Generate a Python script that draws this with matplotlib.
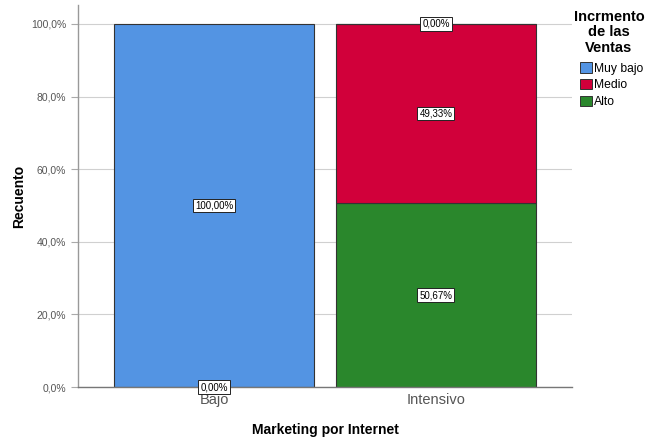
import matplotlib.pyplot as plt
import numpy as np
from matplotlib.patches import Patch
from matplotlib.ticker import FuncFormatter

plt.rcParams['font.family'] = ['Liberation Sans', 'DejaVu Sans']

categorias = ['Bajo', 'Intensivo']
niveles = ['Muy bajo', 'Medio', 'Alto']
colores = {'Muy bajo': '#5394e3', 'Medio': '#d1003a', 'Alto': '#2a872c'}
# porcentajes por categoria; nan = el nivel no aparece en ese grupo
muy_bajo = [100.0, 0.0]
medio = [0.0, 49.33]
alto = [np.nan, 50.67]
valores = {'Muy bajo': muy_bajo, 'Medio': medio, 'Alto': alto}
orden_apilado = ['Alto', 'Medio', 'Muy bajo']

fig = plt.figure(figsize=(6.46, 4.38), dpi=100)
ax = fig.add_axes([0.1207, 0.1164, 0.7647, 0.8722])

x = np.arange(len(categorias))
base = np.zeros(len(categorias))
for nivel in orden_apilado:
    v = np.array(valores[nivel])
    for i in range(len(categorias)):
        if np.isnan(v[i]):
            continue
        ax.bar(x[i], v[i], bottom=base[i], width=0.9, color=colores[nivel],
               edgecolor='#333333', linewidth=0.8, zorder=2)
        etiqueta = f'{v[i]:.2f}%'.replace('.', ',')
        ax.text(x[i], base[i] + v[i] / 2, etiqueta, ha='center', va='center',
                fontsize=7, zorder=4,
                bbox=dict(boxstyle='square,pad=0.2', fc='white', ec='#222222', lw=0.7))
        base[i] += v[i]

ax.set_xlim(-0.613, 1.613)
ax.set_ylim(0, 105.2)
ax.set_yticks(np.arange(0, 101, 20))
ax.yaxis.set_major_formatter(FuncFormatter(lambda y, _: f'{y:.1f}%'.replace('.', ',')))
ax.set_xticks(x)
ax.set_xticklabels(categorias, fontsize=10.5, color='#555555')
ax.tick_params(axis='y', labelsize=7.5, colors='#555555', length=5, color='#aaaaaa')
ax.tick_params(axis='x', length=0, pad=4)
ax.grid(axis='y', color='#d0d0d0', linewidth=0.8, zorder=0)

for s in ['top', 'right']:
    ax.spines[s].set_visible(False)
ax.spines['left'].set_color('#999999')
ax.spines['bottom'].set_color('#777777')
ax.spines['left'].set_linewidth(1.0)
ax.spines['bottom'].set_linewidth(1.0)

ax.set_xlabel('Marketing por Internet', fontsize=10, fontweight='bold', labelpad=12)
ax.set_ylabel('Recuento', fontsize=10, fontweight='bold')
ax.yaxis.set_label_coords(-0.105, 0.5)

# titulo de la leyenda aparte, centrado sobre los elementos
fig.text(609 / 646, 1 - 10 / 438, 'Incrmento\nde las\nVentas', ha='center', va='top',
         fontsize=10.5, fontweight='bold', linespacing=1.12, multialignment='center')
manejadores = [Patch(facecolor=colores[n], edgecolor='#333333', linewidth=0.7, label=n)
               for n in niveles]
fig.legend(handles=manejadores, loc='upper left', bbox_to_anchor=(578 / 646, 1 - 60 / 438),
           frameon=False, fontsize=8.7, handlelength=0.95, handleheight=0.95,
           handletextpad=0.2, labelspacing=0.35, borderpad=0.2, borderaxespad=0)

fig.savefig('out.png', dpi=100)
